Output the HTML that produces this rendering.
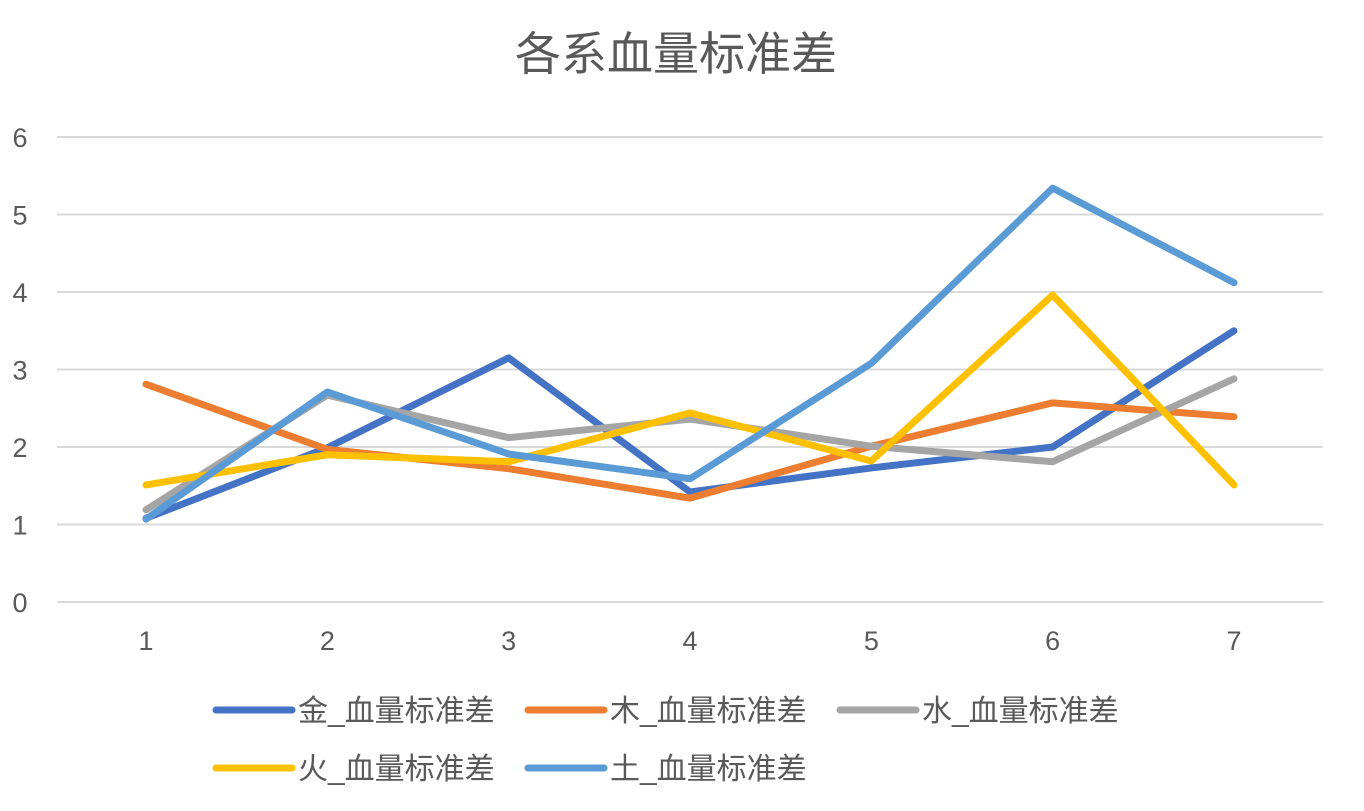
<!DOCTYPE html>
<html><head><meta charset="utf-8"><style>
html,body{margin:0;padding:0;background:#fff;}
svg text{font-family:"Liberation Sans","Noto Sans CJK SC",sans-serif;fill:#595959;}
</style></head><body>
<svg id="chart" width="1364" height="806" viewBox="0 0 1364 806">
<text x="676" y="70" text-anchor="middle" font-size="46">各系血量标准差</text>
<g id="grid"></g><g id="series"></g><g id="legend"></g>
</svg>
<script>
const categories=["1","2","3","4","5","6","7"];
const yTicks=[0,1,2,3,4,5,6];
const seriesNames=["金_血量标准差","木_血量标准差","水_血量标准差","火_血量标准差","土_血量标准差"];
const jin=[1.08,1.99,3.15,1.42,1.73,2.0,3.5];
const mu=[2.81,1.97,1.72,1.34,2.01,2.57,2.39];
const shui=[1.19,2.67,2.12,2.36,2.01,1.81,2.88];
const huo=[1.51,1.9,1.81,2.44,1.82,3.96,1.51];
const tu=[1.07,2.71,1.91,1.59,3.08,5.34,4.12];
const colors=["#4472C4","#ED7D31","#A5A5A5","#FFC000","#5B9BD5"];
const allSeries=[jin,mu,shui,huo,tu];
const NS="http://www.w3.org/2000/svg";
const x=i=>146+i*(1234-146)/(categories.length-1);
const y=v=>602-v*(602-137)/6;
const grid=document.getElementById('grid');
yTicks.forEach(t=>{
 const l=document.createElementNS(NS,'line');
 l.setAttribute('x1',57);l.setAttribute('x2',1323);l.setAttribute('y1',y(t));l.setAttribute('y2',y(t));
 l.setAttribute('stroke','#d9d9d9');l.setAttribute('stroke-width','2');
 
 
 grid.appendChild(l);
 const tx=document.createElementNS(NS,'text');
 tx.setAttribute('x',20);tx.setAttribute('y',y(t)+10);tx.setAttribute('font-size','27');tx.setAttribute('text-anchor','middle');
 tx.textContent=t;
 
 
 grid.appendChild(tx);
});
categories.forEach((c,i)=>{
 const tx=document.createElementNS(NS,'text');
 tx.setAttribute('x',x(i));tx.setAttribute('y',650);tx.setAttribute('font-size','27');tx.setAttribute('text-anchor','middle');
 tx.textContent=c;
 
 
 grid.appendChild(tx);
});
const sg=document.getElementById('series');
allSeries.forEach((s,k)=>{
 const p=document.createElementNS(NS,'polyline');
 p.setAttribute('points',s.map((v,i)=>x(i)+','+y(v)).join(' '));
 p.setAttribute('fill','none');p.setAttribute('stroke',colors[k]);p.setAttribute('stroke-width','7');
 p.setAttribute('stroke-linejoin','round');p.setAttribute('stroke-linecap','round');
 
 
 sg.appendChild(p);
});
const lg=document.getElementById('legend');
const lpos=[[216,710],[528,710],[840,710],[216,768],[528,768]];
seriesNames.forEach((n,k)=>{
 const g=document.createElementNS(NS,'g');
 
 
 const [lx,ly]=lpos[k];
 const l=document.createElementNS(NS,'line');
 l.setAttribute('x1',lx);l.setAttribute('x2',lx+76);l.setAttribute('y1',ly);l.setAttribute('y2',ly);
 l.setAttribute('stroke',colors[k]);l.setAttribute('stroke-width','7');l.setAttribute('stroke-linecap','round');
 g.appendChild(l);
 const t=document.createElementNS(NS,'text');
 t.setAttribute('x',lx+82);t.setAttribute('y',ly+11);t.setAttribute('font-size','30');
 t.textContent=n;
 g.appendChild(t);
 lg.appendChild(g);
});
</script>
</body></html>
